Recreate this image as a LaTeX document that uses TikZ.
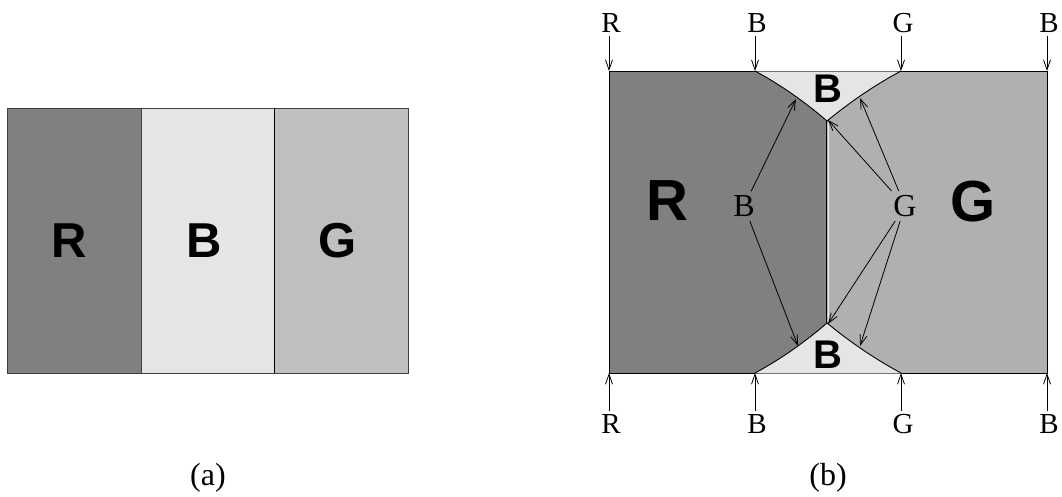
\documentclass[tikz,border=0pt]{standalone}
\usepackage{fontspec}
\setmainfont{Liberation Serif}
\newfontfamily\hv{Liberation Sans}
\usetikzlibrary{arrows.meta}
\definecolor{rgray}{HTML}{808080}
\definecolor{bgray}{HTML}{E5E5E5}
\definecolor{ggray}{HTML}{BFBFBF}
\definecolor{ggrayb}{HTML}{B0B0B0}
\begin{document}
\begin{tikzpicture}[x=1pt,y=-1pt,
  bigl/.style={font=\hv\bfseries\fontsize{49}{49}\selectfont, inner sep=0pt},
  hugel/.style={font=\hv\bfseries\fontsize{58}{58}\selectfont, inner sep=0pt},
  midl/.style={font=\hv\bfseries\fontsize{40}{40}\selectfont, inner sep=0pt},
  seril/.style={font=\fontsize{29}{29}\selectfont, inner sep=3pt},
  innl/.style={font=\fontsize{32}{32}\selectfont, inner sep=4pt},
  capl/.style={font=\fontsize{32}{32}\selectfont, inner sep=0pt},
  arr/.style={line width=0.8pt, -{Straight Barb[length=10pt,width=7pt,line width=0.8pt]}},
  edge/.style={line width=1pt, draw=black}
]
\useasboundingbox (0,0) rectangle (1062,496);

% ---------- (a) ----------
\fill[rgray] (7,108) rectangle (141,373);
\fill[bgray] (141,108) rectangle (274,373);
\fill[ggray] (274,108) rectangle (408,373);
\draw[line width=1pt, draw=black!75] (7,108) rectangle (408,373);
\draw[line width=1pt, draw=black!75] (141,108) -- (141,373);
\draw[line width=1pt, draw=black] (274,108) -- (274,373);
\node[bigl] (aR) at (69,241) {R};
\node[bigl] (aB) at (204,241) {B};
\node[bigl] (aG) at (338,241) {G};
\node[capl] (capa) at (208,478) {(a)};

% ---------- (b) ----------
\coordinate (TL) at (609,71);
\coordinate (TB1) at (755,71);
\coordinate (TG) at (901,71);
\coordinate (TR) at (1047,71);
\coordinate (BL) at (609,373);
\coordinate (BB1) at (755,373);
\coordinate (BG) at (901,373);
\coordinate (BR) at (1047,373);
\coordinate (Ta) at (827,121);
\coordinate (Ba) at (827,323);

% regions
\fill[rgray] (TL) -- (TB1) .. controls (781,85) and (805,102) .. (Ta) -- (Ba) .. controls (805,342) and (781,359) .. (BB1) -- (BL) -- cycle;
\fill[ggrayb] (Ta) .. controls (850,102) and (875,85) .. (TG) -- (TR) -- (BR) -- (BG) .. controls (875,359) and (850,342) .. (Ba) -- cycle;
\fill[bgray] (TB1) .. controls (781,85) and (805,102) .. (Ta) .. controls (850,102) and (875,85) .. (TG) -- cycle;
\fill[bgray] (BB1) .. controls (781,359) and (805,342) .. (Ba) .. controls (850,342) and (875,359) .. (BG) -- cycle;

% borders
\draw[edge] (TB1) -- (TL) -- (BL) -- (BB1);
\draw[edge] (TG) -- (TR) -- (BR) -- (BG);
\draw[line width=0.8pt, draw=black!55] (TB1) -- (TG);
\draw[line width=0.8pt, draw=black!55] (BB1) -- (BG);
\draw[line width=0.9pt] (TB1) .. controls (781,85) and (805,102) .. (Ta) .. controls (850,102) and (875,85) .. (TG);
\draw[line width=0.9pt] (BB1) .. controls (781,359) and (805,342) .. (Ba) .. controls (850,342) and (875,359) .. (BG);
\draw[line width=1pt] (826.5,121) -- (826.5,323);
\draw[line width=1pt, white!85!gray] (828.3,123) -- (828.3,321);

% region labels
\node[hugel] (rR) at (667,201) {R};
\node[hugel] (rG) at (973,202) {G};
\node[midl] (rBt) at (828,89) {B};
\node[midl] (rBb) at (828,355) {B};

% top / bottom labels with arrows
\node[seril] (tR) at (611,23) {R};
\node[seril] (tB1) at (757,23) {B};
\node[seril] (tG) at (903,23) {G};
\node[seril] (tB2) at (1049,23) {B};
\node[seril] (bR) at (611,424) {R};
\node[seril] (bB1) at (757,424) {B};
\node[seril] (bG) at (903,424) {G};
\node[seril] (bB2) at (1049,424) {B};
\draw[arr] (tR.south -| TL) -- (TL);
\draw[arr] (tB1.south -| TB1) -- (TB1);
\draw[arr] (tG.south -| TG) -- (TG);
\draw[arr] (tB2.south -| TR) -- (TR);
\draw[arr] (bR.north -| BL) -- (BL);
\draw[arr] (bB1.north -| BB1) -- (BB1);
\draw[arr] (bG.north -| BG) -- (BG);
\draw[arr] (bB2.north -| BR) -- (BR);

% inner labels and arrows
\coordinate (pTl) at (796,99);
\coordinate (pTr) at (860,98);
\coordinate (pBl) at (798,346);
\coordinate (pBr) at (860,346);
\node[innl] (iB) at (744,206) {B};
\node[innl] (iG) at (905,206) {G};
\draw[arr] (iB) -- (pTl);
\draw[arr] (iB) -- (pBl);
\draw[arr] (iG) -- (pTr);
\draw[arr] (iG) -- ([xshift=1pt,yshift=1pt]Ta);
\draw[arr] (iG) -- ([xshift=1pt,yshift=-1pt]Ba);
\draw[arr] (iG) -- (pBr);

\node[capl] (capb) at (828,478) {(b)};
\end{tikzpicture}
\end{document}
